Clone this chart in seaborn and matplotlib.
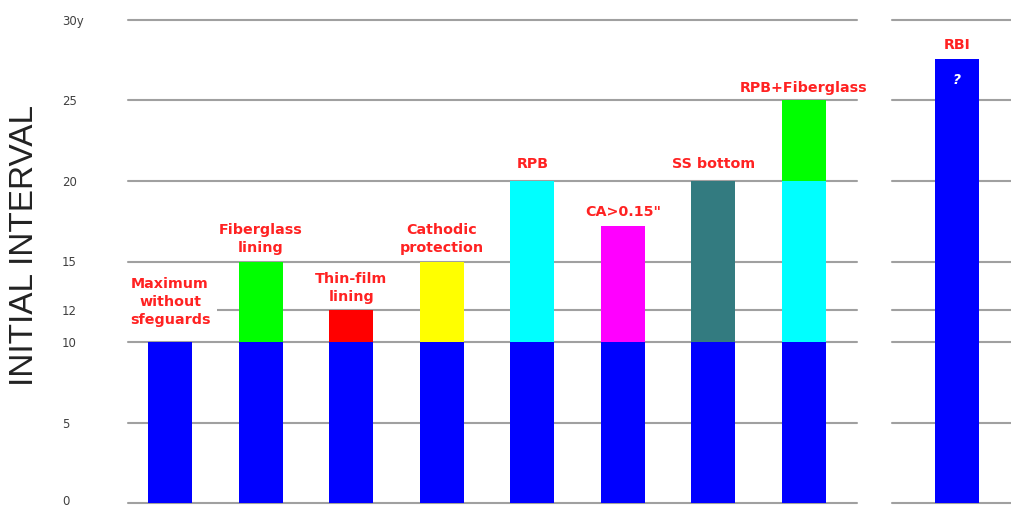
import matplotlib
matplotlib.use("Agg")
import matplotlib.pyplot as plt
import matplotlib.transforms as mtransforms
import seaborn as sns
import pandas as pd

# ---------------- data ----------------
categories = ["Maximum\nwithout\nsfeguards", "Fiberglass\nlining", "Thin-film\nlining",
              "Cathodic\nprotection", "RPB", "CA>0.15\"", "SS bottom", "RPB+Fiberglass"]
base_values = [10, 10, 10, 10, 10, 10, 10, 10]
second_values = [0, 5, 2, 5, 10, 7.2, 10, 10]
third_values = [0, 0, 0, 0, 0, 0, 0, 5]
base_colors = ["#0000FF"] * 8
second_colors = ["#0000FF", "#00FF00", "#FF0000", "#FFFF00", "#00FFFF", "#FF00FF", "#337B80", "#00FFFF"]
third_colors = ["#0000FF", "#0000FF", "#0000FF", "#0000FF", "#0000FF", "#0000FF", "#0000FF", "#00FF00"]

rbi_label = "RBI"
rbi_value = 27.6
rbi_note = "?"

y_ticks = [0, 5, 10, 12, 15, 20, 25, 30]
y_tick_labels = ["0", "5", "10", "12", "15", "20", "25", "30y"]
y_title = "INITIAL INTERVAL"

# ---------------- style ----------------
sns.set_style("white")
plt.rcParams["font.family"] = ["DejaVu Sans"]
LABEL_RED = "#FF2222"
GRID = "#A0A0A0"
BAR_W = 0.486
label_pad_pts = [11, 5, 4, 5, 7, 5, 7, 4]

fig = plt.figure(figsize=(10.11, 5.07), dpi=100)
ax = fig.add_axes([128 / 1011, 4 / 507, 729 / 1011, 483 / 507])
ax2 = fig.add_axes([892 / 1011, 4 / 507, 119 / 1011, 483 / 507], sharey=ax)

# build stacked layers (cumulative tops), drawn tallest first
cum1 = [b for b in base_values]
cum2 = [b + s for b, s in zip(base_values, second_values)]
cum3 = [c + t for c, t in zip(cum2, third_values)]
layers = [
    (cum3, third_values, third_colors),
    (cum2, second_values, second_colors),
    (cum1, base_values, base_colors),
]
for tops, seg, cols in layers:
    df = pd.DataFrame({"cat": categories, "top": tops, "seg": seg, "color": cols})
    df = df[df["seg"] > 0]
    pal = dict(zip(df["cat"], df["color"]))
    sns.barplot(data=df, x="cat", y="top", hue="cat", palette=pal, order=categories,
                hue_order=list(df["cat"]), width=BAR_W, saturation=1, linewidth=0,
                legend=False, ax=ax, zorder=2)

sns.barplot(x=[rbi_label], y=[rbi_value], color="#0000FF", width=BAR_W, saturation=1,
            linewidth=0, ax=ax2, zorder=2)

# labels above bars
for i, (cat, tot) in enumerate(zip(categories, cum3)):
    kw = {}
    if i == 0:
        kw["bbox"] = dict(boxstyle="square,pad=0.5", fc="white", ec="none")
    ax.annotate(cat, (i, tot), xytext=(0, label_pad_pts[i]), textcoords="offset points",
                ha="center", va="bottom", color=LABEL_RED, fontsize=10.3,
                fontweight="bold", linespacing=1.35, zorder=3, **kw)
ax2.annotate(rbi_label, (0, rbi_value), xytext=(0, 5), textcoords="offset points",
             ha="center", va="bottom", color=LABEL_RED, fontsize=10.3, fontweight="bold")
ax2.annotate(rbi_note, (0, rbi_value), xytext=(0, -10), textcoords="offset points",
             ha="center", va="top", color="white", fontsize=10, fontstyle="italic",
             fontweight="bold")

for a in (ax, ax2):
    a.set_ylim(0, 30)
    a.set_yticks(y_ticks)
    a.grid(axis="y", color=GRID, linewidth=1.5, zorder=0)
    a.grid(axis="x", visible=False)
    a.set_axisbelow(True)
    a.set_xlabel("")
    a.set_ylabel("")
    a.set_xticks([])
    for s in a.spines.values():
        s.set_visible(False)
    for gl in a.get_ygridlines():
        gl.set_clip_on(False)

ax.set_xlim(-0.464, 7.585)
ax2.set_xlim(-0.718, 0.596)

ax.set_yticklabels(y_tick_labels)
ax.tick_params(axis="y", length=0, pad=47.5, labelsize=8.5, labelcolor="#404040")
for t in ax.get_yticklabels():
    t.set_horizontalalignment("left")
# nudge the bottom "0" label up a little so it stays inside the picture
zero_lbl = ax.get_yticklabels()[0]
zero_lbl.set_transform(zero_lbl.get_transform() +
                       mtransforms.ScaledTranslation(0, 3 / 100, fig.dpi_scale_trans))
ax2.tick_params(axis="y", length=0, labelleft=False)

fig.text(25 / 1011, (507 - 246) / 507, y_title, rotation=90, ha="center", va="center",
         fontsize=24, family=["Liberation Sans", "DejaVu Sans"], color="#222222")

fig.savefig("out.png", dpi=100)
